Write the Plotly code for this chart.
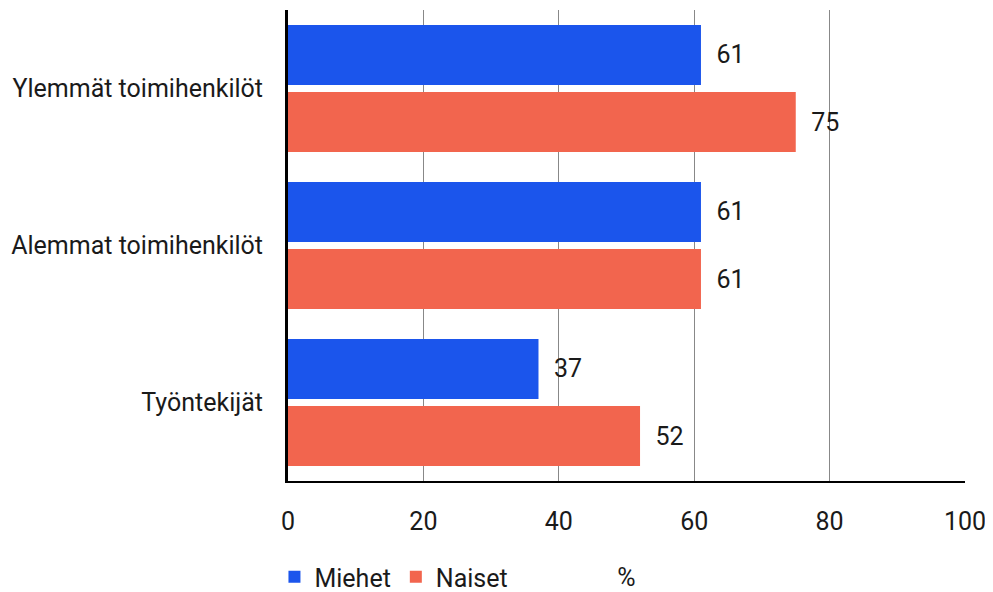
import plotly.graph_objects as go

# ryhmät ja osuudet (%)
ryhmat = ["Ylemmät toimihenkilöt", "Alemmat toimihenkilöt", "Työntekijät"]
miehet = [61, 61, 37]
naiset = [75, 61, 52]
x_ticks = [0, 20, 40, 60, 80, 100]

fontti = "Roboto"
teksti_vari = "#1a1a1a"
koko = 25

fig = go.Figure()
fig.add_trace(go.Bar(
    y=ryhmat, x=miehet, name="Miehet", orientation="h",
    marker=dict(color="#1b55ec", line=dict(width=0)),
    texttemplate="\u00a0\u00a0%{x}", textposition="outside",
    cliponaxis=False,
))
fig.add_trace(go.Bar(
    y=ryhmat, x=naiset, name="Naiset", orientation="h",
    marker=dict(color="#f2654e", line=dict(width=0)),
    texttemplate="\u00a0\u00a0%{x}", textposition="outside",
    cliponaxis=False,
))

# sivun body-marginaali (8px) huomioitu: kuva 985x584
fig.update_layout(
    width=985, height=584,
    margin=dict(l=280, r=28, t=2, b=111, autoexpand=False),
    plot_bgcolor="white", paper_bgcolor="white",
    barmode="group", bargap=0.146, bargroupgap=0.104,
    font=dict(family=fontti, size=koko, color=teksti_vari),
    legend=dict(
        orientation="h", x=-0.02, xanchor="left", y=-0.204, yanchor="middle",
        font=dict(size=koko), itemwidth=30, traceorder="normal",
    ),
    xaxis=dict(
        range=[0, 100], tickvals=x_ticks, showgrid=True, gridcolor="#888888",
        gridwidth=1, zeroline=False, showline=True, linecolor="black",
        linewidth=2, ticklabelstandoff=17, automargin=False,
        title=dict(text="%", standoff=33, font=dict(size=koko)),
    ),
    yaxis=dict(
        autorange="reversed", showgrid=False, showline=True, automargin=False,
        linecolor="black", linewidth=3, ticklabelstandoff=17,
    ),
)
fig.update_traces(textfont=dict(size=koko, color=teksti_vari))

fig.write_html("out.html")
